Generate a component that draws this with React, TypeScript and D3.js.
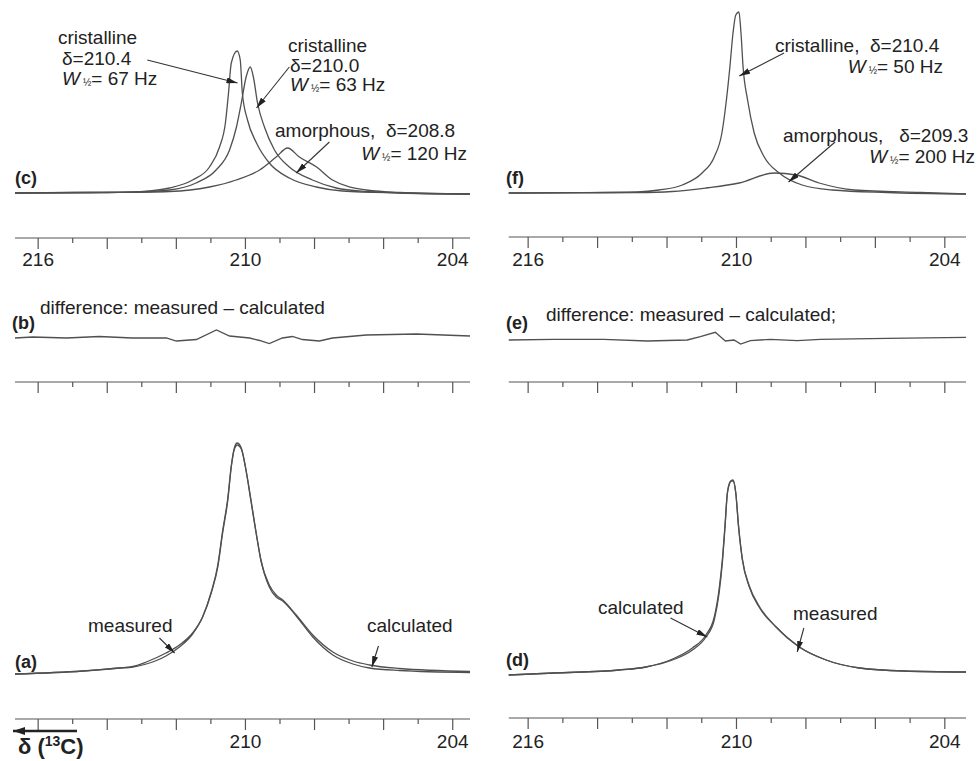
import * as d3 from 'd3';

// chemical shift δ (ppm) vs intensity (a.u.)
const cCryst1 = [[216.67, 0], [215.0, 0.5], [214.0, 0.5], [213.3, 0.8], [212.78, 2], [212.2, 5], [211.53, 13], [211.04, 26], [210.75, 46], [210.58, 70], [210.49, 100], [210.41, 130], [210.24, 142], [210.15, 133], [210.09, 100], [209.94, 73], [209.68, 50], [209.31, 30], [208.73, 15], [207.95, 6], [207.19, 2], [205.54, 0], [203.5, -1]];
const cCryst2 = [[216.67, 0], [214.5, 0.5], [213.2, 1], [212.2, 3], [211.43, 10], [210.85, 23], [210.46, 43], [210.26, 66], [210.12, 90], [209.98, 116], [209.86, 126], [209.77, 116], [209.65, 90], [209.45, 66], [209.16, 43], [208.73, 26], [208.06, 13], [207.37, 5], [206.5, 1.5], [205.83, 0.5], [203.5, -1]];
const cAmorph = [[216.67, 0], [214.0, 0.5], [212.2, 1.5], [211.04, 6], [210.27, 13], [209.59, 23], [209.11, 36], [208.78, 45], [208.44, 36], [207.94, 26], [207.48, 13], [206.5, 3], [205.54, 0.5], [203.5, -1]];

const fCryst = [[216.56, 0], [214.5, 0.3], [212.86, 1], [212.23, 3], [211.56, 8], [210.99, 20], [210.64, 36], [210.42, 60], [210.29, 93], [210.19, 126], [210.1, 160], [210.02, 178], [209.93, 181], [209.87, 160], [209.81, 126], [209.68, 93], [209.49, 60], [209.2, 36], [208.77, 20], [208.11, 8], [207.24, 3], [205.66, 0.5], [203.39, -1]];
const fAmorph = [[216.56, 0], [212.86, 0.5], [211.85, 1.5], [210.88, 5], [209.92, 10], [208.91, 20], [208.28, 18], [207.62, 10], [206.61, 3], [204.71, 0.5], [203.39, -1]];

const bDiff = [[216.67, 0], [216.16, 1], [215.18, 0], [214.23, 1.5], [213.27, 0], [212.29, 0], [212.0, -3], [211.42, -1.5], [210.84, 8], [210.46, 2], [210.17, 1], [209.88, 0], [209.59, -2.5], [209.31, -5.5], [208.93, 0], [208.64, 1.5], [208.35, -1.5], [207.86, -3], [207.48, 0], [206.5, 3], [205.05, 4], [203.5, 2]];
const eDiff = [[216.56, 0], [215.26, 0.7], [213.82, 0.7], [212.57, -1], [211.42, 0], [211.04, 3.3], [210.61, 7.7], [210.32, -1], [210.07, 0], [209.88, -4], [209.6, -0.7], [209.02, 0.7], [208.25, -0.7], [207.58, 0.7], [205.65, 1.7], [203.39, 2.7]];

const aMeasured = [[216.67, -1], [214.71, 2], [213.65, 5], [213.26, 6.5], [212.87, 11], [212.3, 20], [211.91, 28], [211.53, 40], [211.24, 56], [210.99, 80], [210.8, 106], [210.66, 140], [210.51, 173], [210.41, 206], [210.32, 225], [210.24, 230], [210.12, 225], [210.0, 206], [209.84, 173], [209.69, 140], [209.55, 113], [209.31, 86], [209.11, 76], [208.92, 72], [208.53, 57], [208.05, 36], [207.47, 18], [206.89, 9], [206.41, 5], [205.54, 2.5], [203.5, 0.5]];
const aCalculated = [[216.67, -1], [214.71, 2], [213.65, 5], [213.26, 6], [212.87, 9], [212.3, 17], [211.91, 26], [211.53, 39], [211.24, 56], [210.99, 81], [210.8, 108], [210.66, 142], [210.51, 175], [210.41, 207], [210.32, 224], [210.24, 228], [210.12, 224], [210.0, 206], [209.84, 172], [209.69, 140], [209.55, 112], [209.31, 88], [209.11, 78], [208.92, 73], [208.53, 58], [208.05, 38], [207.47, 21], [206.89, 12], [206.41, 8], [205.54, 4.5], [203.5, 1.5]];

const dMeasured = [[216.56, -2], [215.26, 0], [213.38, 3], [212.61, 6], [211.84, 13], [211.27, 23], [210.88, 36], [210.64, 53], [210.5, 80], [210.4, 113], [210.33, 146], [210.26, 180], [210.16, 192], [210.1, 193], [210.02, 180], [209.94, 146], [209.83, 113], [209.63, 86], [209.35, 66], [208.86, 46], [208.19, 26], [207.42, 13], [206.46, 5], [205.18, 2], [203.39, 1]];
const dCalculated = [[216.56, -2], [215.26, 0], [213.38, 3], [212.61, 6], [211.84, 14], [211.27, 25], [210.88, 38], [210.64, 56], [210.5, 84], [210.4, 116], [210.33, 148], [210.26, 181], [210.16, 192], [210.1, 192], [210.02, 180], [209.94, 147], [209.83, 114], [209.63, 87], [209.35, 67], [208.86, 46], [208.19, 26], [207.42, 13], [206.46, 5], [205.18, 2], [203.39, 1]];

const majorTicks = [216, 214, 212, 210, 208, 206, 204];
const minorTicks = [215, 213, 211, 209, 207, 205];
const labelsFull = [216, 210, 204];
const labelsBottomLeft = [210, 204];

const FONT = '"Liberation Sans", Arial, Helvetica, sans-serif';
const INK = '#222';
const TRACE = '#505050';

const xLeft = d3.scaleLinear().domain([216.67, 203.5]).range([15, 470]);
const xRight = d3.scaleLinear().domain([216.56, 203.39]).range([508.7, 966]);
const yAt = (base: number) => d3.scaleLinear().domain([0, 100]).range([base, base - 100]);

type Pt = number[];

function Trace({ data, x, y, smooth = true }: { data: Pt[]; x: any; y: any; smooth?: boolean }) {
  const line = d3.line<Pt>()
    .x((d) => x(d[0]))
    .y((d) => y(d[1]))
    .curve(smooth ? d3.curveMonotoneX : d3.curveLinear);
  return <path d={line(data) || ''} fill="none" stroke={TRACE} strokeWidth={1.3} />;
}

function Axis({ x, y0, labels, labelY }: { x: any; y0: number; labels: number[]; labelY: number }) {
  const [a, b] = x.range();
  return (
    <g stroke="#555" strokeWidth={1.2}>
      <line x1={a} x2={b} y1={y0} y2={y0} />
      {majorTicks.map((t) => <line key={'M' + t} x1={x(t)} x2={x(t)} y1={y0} y2={y0 + 11} />)}
      {minorTicks.map((t) => <line key={'m' + t} x1={x(t)} x2={x(t)} y1={y0} y2={y0 + 5} />)}
      {labels.map((t) => (
        <text key={'l' + t} x={x(t)} y={labelY} textAnchor="middle" stroke="none" fill={INK} fontSize={19}>{t}</text>
      ))}
    </g>
  );
}

function Arrow({ x, y, from, to }: { x: any; y: any; from: Pt; to: Pt }) {
  return <line x1={x(from[0])} y1={y(from[1])} x2={x(to[0])} y2={y(to[1])} stroke="#333" strokeWidth={1.1} markerEnd="url(#ah)" />;
}

function Width({ x, y, hz, anchor = 'start' }: { x: number; y: number; hz: string; anchor?: string }) {
  return (
    <text x={x} y={y} textAnchor={anchor as any}>
      <tspan fontStyle="italic">W</tspan>
      <tspan fontSize={10} dx={3} dy={1}>½</tspan>
      <tspan dy={-1}>= {hz} Hz</tspan>
    </text>
  );
}

export default function App() {
  const yC = yAt(193), yB = yAt(338), yA = yAt(673);
  const yF = yAt(193), yE = yAt(340), yD = yAt(673);
  return (
    <svg width={978} height={761} style={{ position: 'absolute', left: 0, top: 0, background: '#fff' }} fontFamily={FONT}>
      <defs>
        <marker id="ah" viewBox="0 0 10 10" refX={10} refY={5} markerWidth={11} markerHeight={6} orient="auto" markerUnits="userSpaceOnUse" preserveAspectRatio="none">
          <path d="M0,0 L10,5 L0,10 z" fill="#222" />
        </marker>
        <marker id="ahBig" viewBox="0 0 10 10" refX={10} refY={5} markerWidth={12} markerHeight={8} orient="auto" markerUnits="userSpaceOnUse" preserveAspectRatio="none">
          <path d="M0,0 L10,5 L0,10 z" fill="#222" />
        </marker>
      </defs>
      <rect width={978} height={761} fill="#fff" />

      {/* (c) */}
      <Trace data={cCryst1} x={xLeft} y={yC} />
      <Trace data={cCryst2} x={xLeft} y={yC} />
      <Trace data={cAmorph} x={xLeft} y={yC} />
      <Axis x={xLeft} y0={238} labels={labelsFull} labelY={266} />
      {/* (f) */}
      <Trace data={fCryst} x={xRight} y={yF} />
      <Trace data={fAmorph} x={xRight} y={yF} />
      <Axis x={xRight} y0={237} labels={labelsFull} labelY={266} />
      {/* (b) (e) */}
      <Trace data={bDiff} x={xLeft} y={yB} smooth={false} />
      <Axis x={xLeft} y0={382} labels={[]} labelY={0} />
      <Trace data={eDiff} x={xRight} y={yE} smooth={false} />
      <Axis x={xRight} y0={382} labels={[]} labelY={0} />
      {/* (a) */}
      <Trace data={aCalculated} x={xLeft} y={yA} />
      <Trace data={aMeasured} x={xLeft} y={yA} />
      <Axis x={xLeft} y0={719} labels={labelsBottomLeft} labelY={748} />
      {/* (d) */}
      <Trace data={dCalculated} x={xRight} y={yD} />
      <Trace data={dMeasured} x={xRight} y={yD} />
      <Axis x={xRight} y0={718} labels={labelsFull} labelY={748} />

      <g fill={INK} fontSize={19}>
        <g fontWeight="bold" fontSize={18}>
          <text x={15} y={184}>(c)</text>
          <text x={506} y={184}>(f)</text>
          <text x={12} y={329}>(b)</text>
          <text x={506} y={329}>(e)</text>
          <text x={15} y={668}>(a)</text>
          <text x={506} y={666}>(d)</text>
        </g>

        <text x={58} y={44}>cristalline</text>
        <text x={62} y={65}>δ=210.4</text>
        <Width x={62} y={85} hz="67" />
        <Arrow x={xLeft} y={yC} from={[212.84, 133]} to={[210.23, 110]} />

        <text x={288} y={52}>cristalline</text>
        <text x={290} y={72}>δ=210.0</text>
        <Width x={290} y={91} hz="63" />
        <Arrow x={xLeft} y={yC} from={[208.73, 126]} to={[209.68, 85]} />

        <text x={275} y={137} xmlSpace="preserve">amorphous,  δ=208.8</text>
        <Width x={467} y={160} hz="120" anchor="end" />
        <Arrow x={xLeft} y={yC} from={[207.57, 51]} to={[208.53, 20]} />

        <text x={775} y={52} xmlSpace="preserve">cristalline,  δ=210.4</text>
        <Width x={943} y={73} hz="50" anchor="end" />
        <Arrow x={xRight} y={yF} from={[208.63, 140]} to={[209.92, 117]} />

        <text x={783} y={142} xmlSpace="preserve">amorphous,   δ=209.3</text>
        <Width x={975} y={163} hz="200" anchor="end" />
        <Arrow x={xRight} y={yF} from={[207.16, 51]} to={[208.5, 11]} />

        <text x={40} y={314}>difference: measured – calculated</text>
        <text x={546} y={321}>difference: measured – calculated;</text>

        <text x={88} y={632}>measured</text>
        <Arrow x={xLeft} y={yA} from={[212.49, 35]} to={[212.05, 20]} />
        <text x={367} y={632}>calculated</text>
        <Arrow x={xLeft} y={yA} from={[206.15, 27]} to={[206.34, 6]} />

        <text x={598} y={614}>calculated</text>
        <Arrow x={xRight} y={yD} from={[211.9, 55]} to={[210.84, 36]} />
        <text x={793} y={620}>measured</text>
        <Arrow x={xRight} y={yD} from={[208.06, 45]} to={[208.25, 21]} />

        <line x1={77} y1={731} x2={13} y2={731} stroke="#222" strokeWidth={2.5} markerEnd="url(#ahBig)" />
        <text x={18} y={754} fontWeight="bold" fontSize={22}>
          δ (<tspan fontSize={14} dy={-8}>13</tspan><tspan dy={8}>C)</tspan>
        </text>
      </g>
    </svg>
  );
}
